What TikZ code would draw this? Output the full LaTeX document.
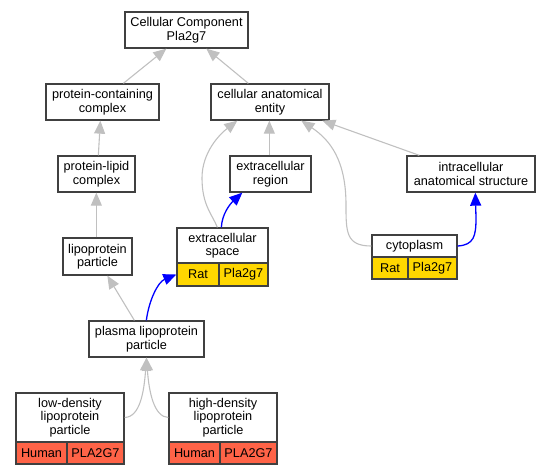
\documentclass[tikz,border=0pt]{standalone}
\usepackage{fontspec}
\setmainfont{Liberation Sans}
\usetikzlibrary{arrows.meta,calc}
\definecolor{edgegray}{HTML}{C0C0C0}
\definecolor{boxline}{HTML}{404040}
\definecolor{ratgold}{HTML}{FFD700}
\definecolor{humanred}{HTML}{FF6347}
\tikzset{
  term/.style={draw=boxline, line width=1.3pt, fill=white, inner sep=0pt, align=center,
     font=\fontsize{12.7}{13.5}\selectfont},
  cell/.style={term},
  gedge/.style={draw=edgegray, line width=1.1pt, -{Triangle[length=13pt,width=11pt]}},
  bedge/.style={draw=blue, line width=1.3pt, -{Triangle[length=13pt,width=11pt]}},
}
\begin{document}
\begin{tikzpicture}[x=1pt,y=-1pt]
\useasboundingbox (0,0) rectangle (551,475);
% nodes
\node[term, minimum width=123, minimum height=36] (cc) at (186.5,30) {Cellular Component\\Pla2g7};
\node[term, minimum width=113, minimum height=36] (pcc) at (102.5,102) {protein-containing\\complex};
\node[term, minimum width=118, minimum height=36] (cae) at (270,102) {cellular anatomical\\entity};
\node[term, minimum width=77, minimum height=36] (plc) at (96.5,174) {protein-lipid\\complex};
\node[term, minimum width=81, minimum height=36] (er) at (270.5,174) {extracellular\\region};
\node[term, minimum width=128, minimum height=36] (ias) at (471,174) {intracellular\\anatomical structure};
\node[term, minimum width=69, minimum height=37] (lp) at (97.5,256.5) {lipoprotein\\particle};
% extracellular space
\node[term, minimum width=91, minimum height=35] (ecs) at (222.5,245.5) {extracellular\\space};
\node[cell, fill=ratgold, minimum width=42, minimum height=23] (ecsrat) at (198,274.5) {Rat};
\node[cell, fill=ratgold, minimum width=49, minimum height=23] (ecsgene) at (243.5,274.5) {Pla2g7};
% cytoplasm
\node[term, minimum width=85, minimum height=22] (cyto) at (414.5,246) {cytoplasm};
\node[cell, fill=ratgold, minimum width=36, minimum height=22] (cytorat) at (390,268) {Rat};
\node[cell, fill=ratgold, minimum width=49, minimum height=22] (cytogene) at (432.5,268) {Pla2g7};
% plasma lipoprotein particle
\node[term, minimum width=115, minimum height=36] (plp) at (146.5,339) {plasma lipoprotein\\particle};
% low density
\node[term, minimum width=108, minimum height=49] (ld) at (70,417.5) {low-density\\lipoprotein\\particle};
\node[cell, fill=humanred, minimum width=51, minimum height=22] (ldhum) at (41.5,453) {Human};
\node[cell, fill=humanred, minimum width=57, minimum height=22] (ldgene) at (95.5,453) {PLA2G7};
% high density
\node[term, minimum width=108, minimum height=49] (hd) at (223,417.5) {high-density\\lipoprotein\\particle};
\node[cell, fill=humanred, minimum width=51, minimum height=22] (hdhum) at (194.5,453) {Human};
\node[cell, fill=humanred, minimum width=57, minimum height=22] (hdgene) at (248.5,453) {PLA2G7};
% edges
\draw[gedge] ($(pcc.north west)+(78,0)$) -- ($(cc.south west)+(42,0)$);
\draw[gedge] ($(cae.north west)+(38,0)$) -- ($(cc.south west)+(82,0)$);
\draw[gedge] ($(plc.north west)+(41,0)$) -- ($(pcc.south west)+(55,0)$);
\draw[gedge] ($(lp.north west)+(34,0)$) -- ($(plc.south west)+(39,0)$);
\draw[gedge] ($(er.north west)+(40,0)$) -- ($(cae.south west)+(59,0)$);
\draw[gedge] ($(ias.north west)+(13,0)$) -- ($(cae.south west)+(112,0)$);
\draw[gedge] (cyto.west) .. controls (346,246) and (346,232) .. (346,205)
   .. controls (346,160) and (330,140) .. ($(cae.south west)+(91,0)$);
\draw[gedge] ($(ecs.north west)+(41,0)$) .. controls (212,214) and (202,205) .. (202,178)
   .. controls (202,152) and (220,134) .. ($(cae.south west)+(27,0)$);
\draw[bedge] ($(ecs.north west)+(45,0)$) .. controls (222,214) and (230,204) .. ($(er.south west)+(13,0)$);
\draw[bedge] (cyto.east) .. controls (474,245) and (476,236) .. (476,218) -- ($(ias.south west)+(69,0)$);
\draw[gedge] ($(plp.north west)+(46,0)$) -- ($(lp.south west)+(45,0)$);
\draw[bedge] ($(plp.north west)+(58,0)$) .. controls (149,300) and (158,282) .. (ecsrat.west);
\draw[gedge] (ld.east) .. controls (140,417) and (144,392) .. (plp.south);
\draw[gedge] (hd.west) .. controls (154,417) and (149,392) .. (plp.south);
\end{tikzpicture}
\end{document}
